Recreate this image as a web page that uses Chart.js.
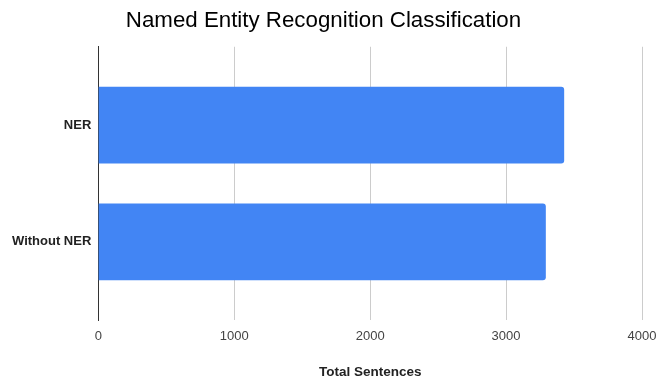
<!DOCTYPE html>
<html>
<head>
<meta charset="utf-8">
<script src="https://cdn.jsdelivr.net/npm/chart.js@4.4.1/dist/chart.umd.min.js"></script>
<style>
  html, body { margin: 0; padding: 0; background: #fff; }
  #wrap { width: 656px; height: 380px; }
</style>
</head>
<body>
<div id="wrap"><canvas id="c" width="656" height="380"></canvas></div>
<script>
// Sentence counts per classification
const categories = ['NER', 'Without NER'];
const totalSentences = [3425, 3290];
const xTicks = [0, 1000, 2000, 3000, 4000];

const FONT = "'Liberation Sans', Arial, sans-serif";

// Bars are placed on a numeric index axis so the two bands sit evenly in the plot
const points = categories.map((c, i) => ({ x: totalSentences[i], y: i }));

new Chart(document.getElementById('c'), {
  type: 'bar',
  data: {
    datasets: [{
      data: points,
      backgroundColor: '#4285F4',
      borderWidth: 0,
      borderRadius: 3,
      barThickness: 76
    }]
  },
  options: {
    indexAxis: 'y',
    responsive: false,
    animation: false,
    layout: { padding: { left: 5, right: 14, top: 0, bottom: 0 } },
    plugins: {
      legend: { display: false },
      tooltip: { enabled: false },
      title: {
        display: true,
        text: 'Named Entity Recognition Classification',
        color: '#000',
        font: { family: FONT, size: 22.3, weight: 'normal' },
        padding: { top: 7, bottom: 13 }
      }
    },
    scales: {
      x: {
        type: 'linear',
        min: xTicks[0],
        max: xTicks[xTicks.length - 1],
        afterBuildTicks: (axis) => { axis.ticks = xTicks.map(v => ({ value: v })); },
        // let the last tick label run into the right margin
        afterFit: (axis) => { axis.paddingRight = 0; },
        grid: { color: '#cccccc', lineWidth: 1, drawTicks: false },
        border: { display: false },
        ticks: {
          color: '#444',
          padding: 8,
          font: { family: FONT, size: 13 },
          callback: (v) => String(v)
        },
        title: {
          display: true,
          text: 'Total Sentences',
          color: '#222',
          font: { family: FONT, size: 13.5, weight: 'bold' },
          padding: { top: 12, bottom: 0 }
        }
      },
      y: {
        type: 'linear',
        reverse: true,
        offset: false,
        min: -0.67,
        max: categories.length - 1 + 0.67,
        afterBuildTicks: (axis) => { axis.ticks = categories.map((c, i) => ({ value: i })); },
        grid: { display: false, drawTicks: false },
        border: { display: true, color: '#333', width: 1 },
        ticks: {
          color: '#222',
          padding: 7,
          font: { family: FONT, size: 13, weight: 'bold' },
          callback: (v) => categories[v] ?? ''
        }
      }
    }
  }
});
</script>
</body>
</html>
